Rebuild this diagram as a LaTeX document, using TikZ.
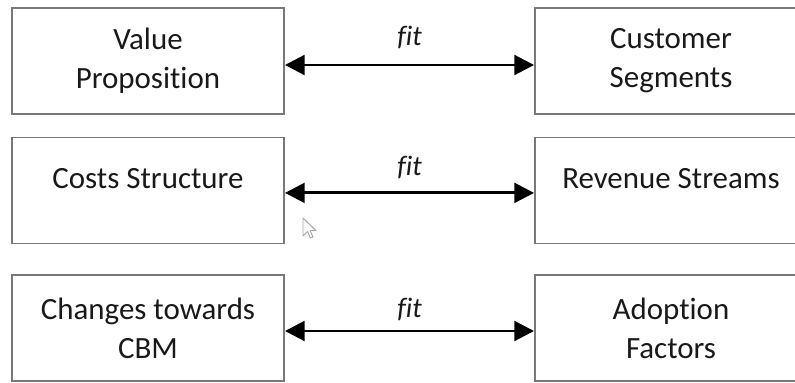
\documentclass[tikz,border=0pt]{standalone}
\usepackage{fontspec}
\setmainfont{Carlito}[Ligatures=NoCommon]
\usetikzlibrary{arrows.meta}
\definecolor{cBox}{RGB}{120,120,120}
\definecolor{cText}{RGB}{25,25,25}

\begin{document}
\begin{tikzpicture}[x=0.025cm,y=-0.025cm,
  bmcbox/.style={draw=cBox,line width=1.3pt,minimum width=6.8cm,minimum height=2.65cm,
    inner sep=0pt,align=center,text=cText,font=\fontsize{22}{27.7}\selectfont},
  onebox/.style={bmcbox,text height=0.5cm,text depth=0.625cm},
  fitarrow/.style={{Triangle[length=14pt,width=14pt]}-{Triangle[length=14pt,width=14pt]},line width=2.1pt},
  fitlabel/.style={inner sep=0pt,text=cText,font=\fontsize{20}{24}\selectfont\itshape}]
\useasboundingbox (0,0) rectangle (795,382);
\clip (0,0) rectangle (795,382);
\node[bmcbox] (vp) at (148,61) {Value\\Proposition};
\node[bmcbox] (cs) at (671,61) {Customer\\Segments};
\node[onebox] (cost) at (148,190.5) {Costs Structure};
\node[onebox] (rev) at (671,190.5) {Revenue Streams};
\node[bmcbox] (chg) at (148,328) {Changes towards\\CBM};
\node[bmcbox] (adopt) at (671,328) {Adoption\\Factors};
\draw[fitarrow] ([yshift=-0.1cm]vp.east) -- node[fitlabel,above=0.37cm] (fit1) {fit} ([yshift=-0.1cm]cs.west);
\draw[fitarrow] ([yshift=-0.06cm]cost.east) -- node[fitlabel,above=0.32cm] (fit2) {fit} ([yshift=-0.06cm]rev.west);
\draw[fitarrow] ([yshift=-0.075cm]chg.east) -- node[fitlabel,above=0.22cm] (fit3) {fit} ([yshift=-0.075cm]adopt.west);
\draw[gray!70,fill=white,line width=0.7pt,line join=round]
  (303,218) -- ++(0,18) -- ++(4.5,-4.5) -- ++(3,6.5) -- ++(2.5,-1) -- ++(-3,-6.5) -- ++(6,0) -- cycle;
\end{tikzpicture}
\end{document}
